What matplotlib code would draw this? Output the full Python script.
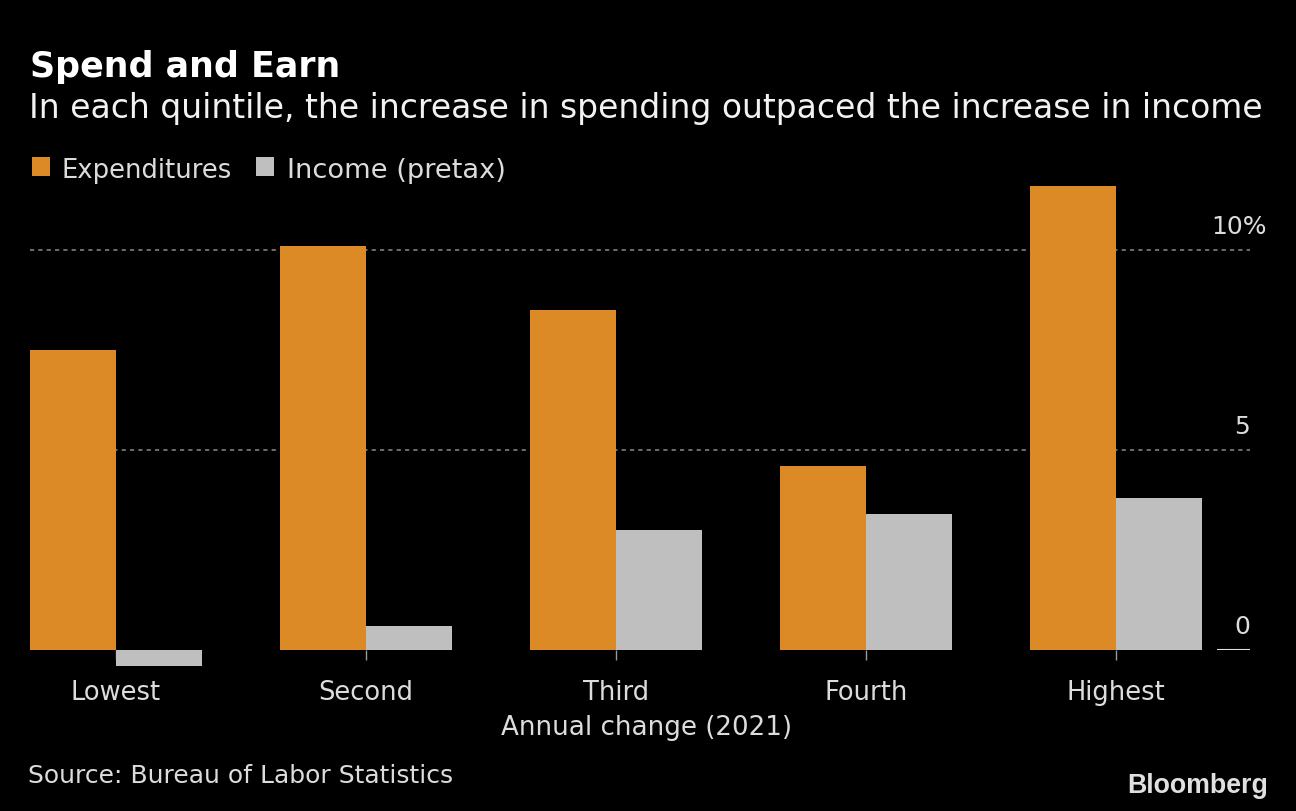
import matplotlib
matplotlib.use("Agg")
import matplotlib.pyplot as plt
import matplotlib.transforms as mtransforms
import numpy as np

categories = ["Lowest", "Second", "Third", "Fourth", "Highest"]
expenditures = [7.5, 10.1, 8.5, 4.6, 11.6]
income = [-0.4, 0.6, 3.0, 3.4, 3.8]
series_names = ["Expenditures", "Income (pretax)"]
ytick_vals = [0, 5, 10]
ytick_labels = ["0", "5", "10%"]

ORANGE = "#DB8A26"
GREY = "#BFBFBF"
TXT = "#DCDCDC"
BG = "#000000"

W, H = 1296, 812
DPI = 100
fig = plt.figure(figsize=(W / DPI, H / DPI), dpi=DPI, facecolor=BG)
plt.rcParams['font.family'] = ['DejaVu Sans']
renderer = fig.canvas.get_renderer()


def fy(px):
    return 1 - px / H


def fx(px):
    return px / W


def fit_text(x, y, s, target_w, weight="normal", family="DejaVu Sans", ha="left", color=TXT):
    t = fig.text(fx(x), fy(y), s, fontsize=20, fontweight=weight, family=family,
                 ha=ha, va="baseline", color=color)
    bb = t.get_window_extent(renderer=renderer)
    t.set_fontsize(20 * target_w / bb.width)
    return t


fit_text(30, 77, "Spend and Earn", 310, weight="bold", color="#FFFFFF")
fit_text(29, 118, "In each quintile, the increase in spending outpaced the increase in income", 1233,
         color="#F2F2F2")
fit_text(28, 783, "Source: Bureau of Labor Statistics", 424)
fit_text(1268, 793, "Bloomberg", 141, weight="bold", family="Liberation Sans", ha="right",
         color="#E0E0E0")

# legend
fig.patches.append(plt.Rectangle((fx(32), fy(177)), fx(18), 19 / H, transform=fig.transFigure,
                                 facecolor=ORANGE, edgecolor="none"))
fit_text(62, 178, series_names[0], 170)
fig.patches.append(plt.Rectangle((fx(256), fy(177)), fx(18), 19 / H, transform=fig.transFigure,
                                 facecolor=GREY, edgecolor="none"))
fit_text(287, 178, series_names[1], 218)

# axes: x from 30 to 1250 px, y=0 at 650 px, 40 px per unit
ax_left, ax_right = 30, 1250
y0_px = 651
ppu = 40
ymax = 12
ax = fig.add_axes([fx(ax_left), fy(y0_px), fx(ax_right - ax_left), ymax * ppu / H])
ax.set_facecolor(BG)
x = np.arange(len(categories))
bw = 86 / 250
ax.set_xlim(-bw, (ax_right - 116) / 250)
ax.set_ylim(0, ymax)
ax.bar(x - bw / 2, expenditures, width=bw, color=ORANGE, clip_on=False, zorder=3)
ax.bar(x + bw / 2, income, width=bw, color=GREY, clip_on=False, zorder=3)

for s in ax.spines.values():
    s.set_visible(False)
ax.set_yticks([])
for v in ytick_vals[1:]:
    ax.axhline(v, color="#808080", lw=1.2, ls=(0, (2.5, 2.5)), zorder=1)
zero_frac = (1218 - ax_left) / (ax_right - ax_left)
ax.axhline(0, xmin=zero_frac, xmax=1, color="#E0E0E0", lw=1.5, zorder=4)

trans = mtransforms.blended_transform_factory(ax.transAxes, ax.transData)
for v, lab in zip(ytick_vals, ytick_labels):
    off = mtransforms.offset_copy(trans, fig=fig, x=0, y=17 * 72 / DPI, units="points")
    if lab.endswith("%"):
        xx = 1 + 17 / (ax_right - ax_left)
    else:
        xx = 1
    ax.text(xx, v, lab, transform=off, ha="right", va="baseline", color=TXT, fontsize=18)

ax.set_xticks(x)
ax.set_xticklabels(categories, fontsize=18.5, color=TXT)
ax.tick_params(axis="x", length=10 * 72 / DPI, width=1, color="#9A9A9A", pad=13.5)

fit_text(647, 735, "Annual change (2021)", 290, ha="center")

fig.savefig("out.png", dpi=DPI, facecolor=BG)
